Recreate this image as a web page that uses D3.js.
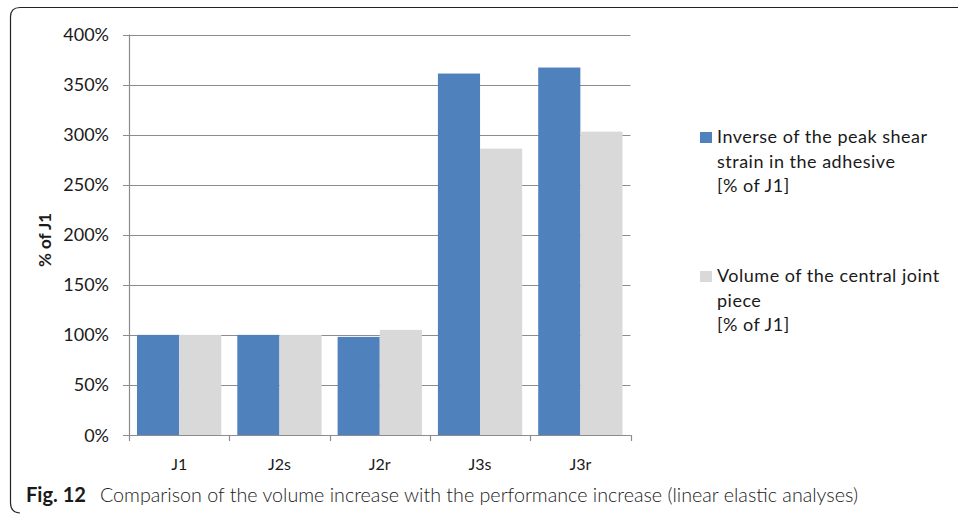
<!DOCTYPE html>
<html><head><meta charset="utf-8">
<script src="https://cdn.jsdelivr.net/npm/d3@7"></script>
<style>
html,body{margin:0;padding:0;background:#fff;}
svg{display:block;}
text{font-family:Lato,"Open Sans",sans-serif;fill:#1a1a1a;}
</style></head>
<body>
<svg id="c" width="958" height="514"></svg>
<script>
const categories = ["J1","J2s","J2r","J3s","J3r"];
const seriesNames = ["Inverse of the peak shear strain in the adhesive [% of J1]","Volume of the central joint piece [% of J1]"];
const inverseStrain = [100, 100, 98, 361, 367];
const volume = [100, 100, 105, 286, 303];
const yTicks = [0,50,100,150,200,250,300,350,400];
const legendLines = [["Inverse of the peak shear","strain in the adhesive","[% of J1]"],["Volume of the central joint","piece","[% of J1]"]];
const colors = ["#4f81bd","#d9d9d9"];

(function(){
const svg = d3.select("#c");
const pLeft = 129, pRight = 630.5, pTop = 34.5, pBottom = 435;

// frame
svg.append("path").attr("d","M958,7.5 H20 Q10.5,7.5 10.5,17 V503 Q10.5,512.5 20,513")
  .attr("fill","none").attr("stroke","#222").attr("stroke-width",1.2);

const x = d3.scaleBand().domain(categories).range([pLeft,pRight]).paddingInner(0).paddingOuter(0);
const y = d3.scaleLinear().domain([0,400]).range([pBottom, pTop]);
const inner = d3.scaleBand().domain([0,1]).range([0,x.bandwidth()]).paddingInner(0).paddingOuter(0.19);

// gridlines
svg.append("g").selectAll("line").data(yTicks).join("line")
  .attr("x1",pLeft-6).attr("x2",pRight)
  .attr("y1",d=>Math.round(y(d))+0.5).attr("y2",d=>Math.round(y(d))+0.5)
  .attr("stroke","#8c8c8c").attr("stroke-width",1.2);

// y axis labels
svg.append("g").selectAll("text").data(yTicks).join("text")
  .attr("x",109).attr("y",d=>y(d)+6.5).attr("text-anchor","end")
  .attr("font-size",18).text(d=>d+"%");

// bars
const data = categories.map((c,i)=>({c, v:[inverseStrain[i], volume[i]]}));
const g = svg.append("g");
data.forEach(d=>{
  d.v.forEach((v,k)=>{
    g.append("rect").attr("x",x(d.c)+inner(k)).attr("width",inner.bandwidth())
      .attr("y",y(v)).attr("height",pBottom-y(v)).attr("fill",colors[k]);
  });
});

// y axis line
svg.append("line").attr("x1",pLeft+0.5).attr("x2",pLeft+0.5).attr("y1",pTop).attr("y2",pBottom)
  .attr("stroke","#8c8c8c").attr("stroke-width",1.2);
// x axis line and ticks
svg.append("line").attr("x1",pLeft).attr("x2",pRight).attr("y1",pBottom+0.5).attr("y2",pBottom+0.5)
  .attr("stroke","#8c8c8c").attr("stroke-width",1.2);
const bounds = categories.map(c=>x(c)).concat([pRight]);
svg.append("g").selectAll("line").data(bounds).join("line")
  .attr("x1",d=>Math.round(d)+0.5).attr("x2",d=>Math.round(d)+0.5).attr("y1",pBottom).attr("y2",pBottom+6)
  .attr("stroke","#8c8c8c").attr("stroke-width",1.2);

// x labels
svg.append("g").selectAll("text").data(categories).join("text")
  .attr("x",d=>x(d)+x.bandwidth()/2).attr("y",470).attr("text-anchor","middle")
  .attr("font-size",16).text(d=>d);

// y title
svg.append("text").attr("transform","translate(51,240) rotate(-90)")
  .attr("text-anchor","middle").attr("font-size",17).attr("font-weight","bold").text("% of J1");

// legend
const lg = svg.append("g");
const legY = [143, 282];
legendLines.forEach((lines,k)=>{
  lg.append("rect").attr("x",700).attr("y",legY[k]-11).attr("width",12).attr("height",11).attr("fill",colors[k]);
  lines.forEach((t,j)=>{
    lg.append("text").attr("x",717).attr("y",legY[k]+j*24.5).attr("font-size",18)
      .attr("letter-spacing",0.5).text(t);
  });
});

// caption
svg.append("text").attr("x",26).attr("y",502).attr("font-size",20).attr("font-weight","bold")
  .attr("textLength",60).attr("lengthAdjust","spacingAndGlyphs").text("Fig. 12");
svg.append("text").attr("x",100).attr("y",502).attr("font-size",20).attr("font-weight",300)
  .attr("textLength",758).attr("lengthAdjust","spacingAndGlyphs")
  .text("Comparison of the volume increase with the performance increase (linear elastic analyses)");
})();
</script>
</body></html>
